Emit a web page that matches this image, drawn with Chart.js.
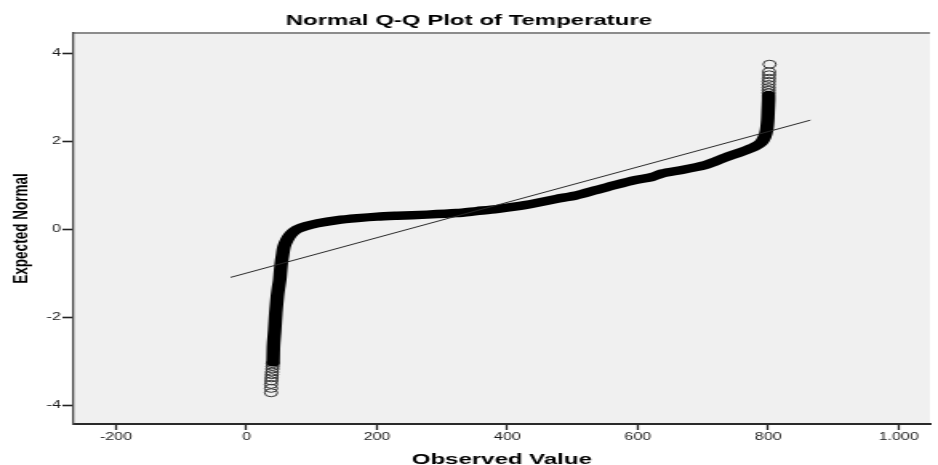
<!DOCTYPE html>
<html>
<head>
<meta charset="utf-8">
<title>Normal Q-Q Plot of Temperature</title>
<script src="https://cdn.jsdelivr.net/npm/chart.js@4/dist/chart.umd.min.js"></script>
<style>
	html, body { margin: 0; padding: 0; background: #fff; }
</style>
</head>
<body>
<!-- drawn at 586 wide and stretched to 938, like the SPSS export -->
<canvas id="qq" width="586" height="465" style="width:938px;height:465px;display:block"></canvas>
<script>
const lowTailX = [37.6, 37.6, 37.6, 38.1, 38.4, 38.8, 39.1, 39.6, 39.9, 40.2];
const lowTailY = [-3.71, -3.61, -3.52, -3.44, -3.37, -3.30, -3.24, -3.17, -3.11, -3.05];

const bodyX = [40.7, 41.4, 43.2, 44.9, 47.2, 49.0, 50.9, 52.1, 53.3, 55.3, 57.4, 62.0, 68.1, 77.2, 90.9,
	109.2, 139.6, 170.1, 200.5, 231.0, 276.7, 322.4, 352.8, 383.3, 413.7, 444.2, 474.7, 505.1, 535.6,
	566.0, 596.5, 621.9, 637.1, 667.6, 703.1, 718.3, 733.5, 759.0, 779.2, 789.4, 794.4, 797.5, 799.1,
	799.8, 800.5, 800.5];
const bodyY = [-3.02, -2.63, -2.29, -1.90, -1.53, -1.33, -1.15, -0.95, -0.77, -0.58, -0.40, -0.24, -0.11, 0.00, 0.075,
	0.14, 0.21, 0.255, 0.29, 0.31, 0.335, 0.37, 0.415, 0.46, 0.52, 0.60, 0.69, 0.77, 0.89,
	1.01, 1.12, 1.19, 1.27, 1.35, 1.46, 1.54, 1.63, 1.76, 1.88, 1.98, 2.10, 2.26, 2.48,
	2.71, 2.94, 3.05];

const highTailX = [800.5, 800.5, 800.6, 800.6, 800.8, 801.0, 801.2, 801.2, 802.0];
const highTailY = [3.10, 3.16, 3.22, 3.29, 3.36, 3.43, 3.51, 3.58, 3.75];

const fitX = [-24.4, 864.5];
const fitY = [-1.09, 2.48];

const xTicks = [-200, 0, 200, 400, 600, 800, 1000];
const yTicks = [-4, -2, 0, 2, 4];

const FONT = '"Liberation Sans", Arial, sans-serif';

function pairs(xs, ys) {
	return xs.map((x, i) => ({x: x, y: ys[i]}));
}

// 1000 -> "1.000"
function fmtNum(v) {
	return String(v).replace(/\B(?=(\d{3})+(?!\d))/g, '.');
}

const plotFrame = {
	id: 'plotFrame',
	beforeDraw(chart) {
		const a = chart.chartArea, ctx = chart.ctx;
		ctx.save();
		ctx.fillStyle = '#f0f0f0';
		ctx.fillRect(a.left, a.top, a.right - a.left, a.bottom - a.top);
		ctx.strokeStyle = '#8c8c8c';
		ctx.lineWidth = 2;
		ctx.beginPath();
		ctx.moveTo(a.left, a.top);
		ctx.lineTo(a.right, a.top);
		ctx.stroke();
		ctx.restore();
	}
};

const ctx = document.getElementById('qq').getContext('2d');
new Chart(ctx, {
	type: 'scatter',
	data: {
		datasets: [
			{
				data: pairs(fitX, fitY),
				showLine: true,
				borderColor: '#2a2a2a',
				borderWidth: 1,
				pointRadius: 0
			},
			{
				data: pairs(bodyX, bodyY),
				showLine: true,
				borderColor: '#000',
				borderWidth: 8.5,
				borderCapStyle: 'round',
				borderJoinStyle: 'round',
				tension: 0.25,
				pointRadius: 0
			},
			{
				data: pairs(lowTailX, lowTailY),
				pointRadius: 4,
				pointBorderWidth: 1,
				pointBorderColor: '#333',
				pointBackgroundColor: 'rgba(0,0,0,0)'
			},
			{
				data: pairs(highTailX, highTailY),
				pointRadius: 4,
				pointBorderWidth: 1,
				pointBorderColor: '#333',
				pointBackgroundColor: 'rgba(0,0,0,0)'
			}
		]
	},
	options: {
		responsive: false,
		animation: false,
		devicePixelRatio: 1,
		layout: { padding: 0 },
		plugins: {
			legend: { display: false },
			tooltip: { enabled: false },
			title: {
				display: true,
				text: 'Normal Q-Q Plot of Temperature',
				color: '#000',
				font: { family: FONT, size: 15, weight: 'bold' },
				padding: { top: 11.5, bottom: 3.5 }
			}
		},
		scales: {
			x: {
				type: 'linear',
				min: -265,
				max: 1048,
				afterBuildTicks: s => { s.ticks = xTicks.map(v => ({value: v})); },
				afterFit: s => { s.height = 41; },
				grid: { drawOnChartArea: false, drawTicks: true, tickLength: 6, tickColor: '#222', tickWidth: 1.3 },
				border: { display: true, color: '#2a2a2a', width: 2 },
				ticks: {
					autoSkip: false,
					maxRotation: 0,
					padding: 1.2,
					color: '#1a1a1a',
					font: { family: FONT, size: 10 },
					callback: v => fmtNum(v)
				},
				title: {
					display: true,
					text: 'Observed Value',
					color: '#000',
					font: { family: FONT, size: 15, weight: 'bold' },
					padding: { top: 0, bottom: -3.5 }
				}
			},
			y: {
				type: 'linear',
				min: -4.42,
				max: 4.46,
				afterBuildTicks: s => { s.ticks = yTicks.map(v => ({value: v})); },
				afterFit: s => { s.width = 46; },
				grid: { drawOnChartArea: false, drawTicks: true, tickLength: 7, tickColor: '#222', tickWidth: 1.6 },
				border: { display: true, color: '#4a4a4a', width: 1.3 },
				ticks: {
					autoSkip: false,
					padding: 1,
					color: '#1a1a1a',
					font: { family: FONT, size: 10 },
					callback: v => fmtNum(v)
				},
				title: {
					display: true,
					text: 'Expected Normal',
					color: '#000',
					font: { family: FONT, size: 13.5, weight: 'bold' },
					padding: { top: 5.5, bottom: 0 }
				}
			}
		}
	},
	plugins: [plotFrame]
});
</script>
</body>
</html>
